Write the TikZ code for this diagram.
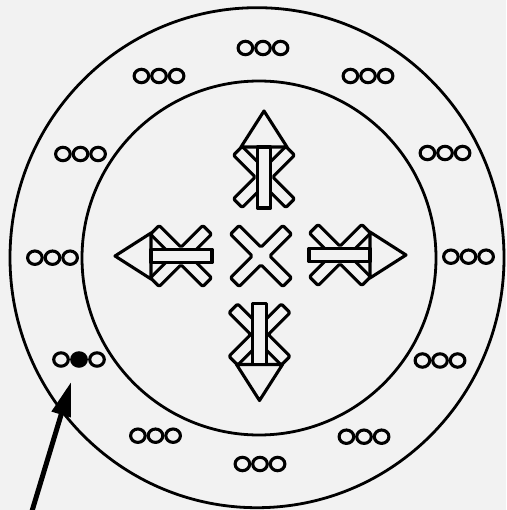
\documentclass[tikz,border=0pt]{standalone}
\usetikzlibrary{arrows.meta}
\begin{document}
\definecolor{bg}{gray}{0.95}
\tikzset{
  outl/.style={draw=black, line width=3.1pt, fill=bg, line join=round},
  ring/.style={draw=black, line width=3.1pt},
  rim/.style={draw=black, line width=2.8pt},
  pointer/.style={draw=black, line width=5pt, -{Triangle[length=34pt,width=19pt]}},
  pics/xmark/.style={code={
    \path[outl, rounded corners=1.5pt, rotate=45]
      (6.2,6.2) -- (37,6.2) -- (37,-6.2) -- (6.2,-6.2) -- (6.2,-37) -- (-6.2,-37)
      -- (-6.2,-6.2) -- (-37,-6.2) -- (-37,6.2) -- (-6.2,6.2) -- (-6.2,37) -- (6.2,37) -- cycle;
  }},
  pics/dirmark/.style={code={
    \path[outl] (30,-23) -- (66,0) -- (30,23) -- cycle;
    \pic {xmark};
    \path[outl] (-31,-6.6) rectangle (30,6.6);
  }},
  pics/triple/.style={code={
    \foreach \i in {-1,0,1} \draw[ring] (\i*17.6,0) ellipse[x radius=7.3pt, y radius=6.7pt];
  }},
  pics/triplefilled/.style={code={
    \draw[ring] (-18,0) ellipse[x radius=7.3pt, y radius=6.7pt];
    \draw[ring, fill=black] (0,0) ellipse[x radius=7.3pt, y radius=6.7pt];
    \draw[ring] (18,0) ellipse[x radius=7.3pt, y radius=6.7pt];
  }},
}
\begin{tikzpicture}[x=1pt, y=-1pt]
  \fill[bg] (0,0) rectangle (506,510);
  \useasboundingbox (0,0) rectangle (506,510);
  % rings
  \draw[rim] (257,257.7) ellipse[x radius=247pt, y radius=250pt];
  \draw[rim] (259,258) circle[radius=177pt];
  % triplets
  \foreach \px/\py in {263/48, 159/76, 368/76, 80.5/154, 445/153, 52.5/257.7, 468.5/256.7,
                       440/360.5, 155.5/435.7, 364/436.7, 260/464}
    \pic at (\px,\py) {triple};
  \pic at (79,359.5) {triplefilled};
  \coordinate (marked) at (79,359.5);
  % central marks
  \pic at (261,256) {xmark};
  \pic[rotate=90] at (264,177) {dirmark};
  \pic at (340,255) {dirmark};
  \pic[rotate=270] at (259.5,334.5) {dirmark};
  \pic[rotate=180] at (181,256) {dirmark};
  % pointer
  \coordinate (tail) at (30.5,516);
  \coordinate (tip) at (71,382);
  \draw[pointer] (tail) -- (tip);
\end{tikzpicture}
\end{document}
